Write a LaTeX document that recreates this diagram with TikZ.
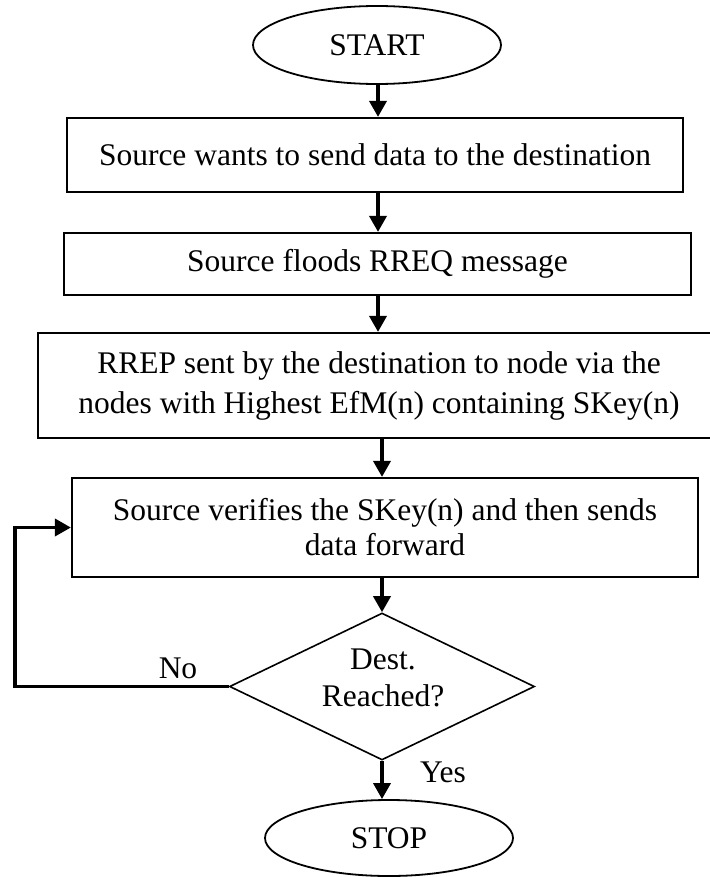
\documentclass[tikz,border=0pt]{standalone}
\usepackage{fontspec}
\setmainfont{Liberation Serif}
\usetikzlibrary{arrows.meta,shapes.geometric}
\begin{document}
\begin{tikzpicture}[x=1pt,y=-1pt,
  every node/.style={font=\fontsize{31.5}{37}\selectfont},
  term/.style={ellipse,draw,line width=1.8pt,inner sep=0pt},
  stepbox/.style={rectangle,draw,line width=2.2pt,inner sep=0pt,align=center},
  decision/.style={diamond,draw,line width=1.6pt,inner sep=0pt},
  flow/.style={line width=3.6pt,line join=miter,-{Triangle[width=17pt,length=16pt]}},
  lbl/.style={inner sep=0pt,align=center}]
\useasboundingbox (0,0) rectangle (709,877);

% terminals
\node[term,minimum width=248pt,minimum height=78pt] (start) at (377,45) {START};
\node[term,minimum width=248pt,minimum height=76pt] (stop) at (389,838) {STOP};

% process steps
\node[stepbox,minimum width=616pt,minimum height=74pt] (b1) at (375,155)
  {Source wants to send data to the destination};
\node[stepbox,minimum width=627pt,minimum height=62pt] (b2) at (377.5,264)
  {Source floods RREQ message};
\node[stepbox,minimum width=682pt,minimum height=105pt,
      font=\fontsize{31.5}{40}\selectfont] (b3) at (379,385.5)
  {RREP sent by the destination to node via the\\
   nodes with Highest EfM(n) containing SKey(n)};
\node[stepbox,minimum width=626pt,minimum height=99pt,
      font=\fontsize{31.5}{35}\selectfont] (b4) at (385,527.5)
  {Source verifies the SKey(n) and then sends\\data forward};

% decision
\node[decision,minimum width=305pt,minimum height=147pt] (d) at (382,686.5) {};
\node[lbl] (dq) at (383,678) {Dest.\\Reached?};

% branch labels
\node[lbl] (no) at (178,668) {No};
\node[lbl] (yes) at (443,772) {Yes};

% connector guide lines
\coordinate (ax) at (378,0);
\coordinate (lp) at (15,0);

\draw[flow] (start.south -| ax) -- (b1.north -| ax);
\draw[flow] (b1.south -| ax) -- (b2.north -| ax);
\draw[flow] (b2.south -| ax) -- (b3.north -| ax);
\draw[flow] (b3.south -| d.north) -- (b4.north -| d.north);
\draw[flow] (b4.south -| d.north) -- (d.north);
\draw[flow] (d.south) -- (stop.north -| d.south);
\draw[flow] (d.west) -- (d.west -| lp) -- (b4.west -| lp) -- (b4.west);
\end{tikzpicture}
\end{document}
